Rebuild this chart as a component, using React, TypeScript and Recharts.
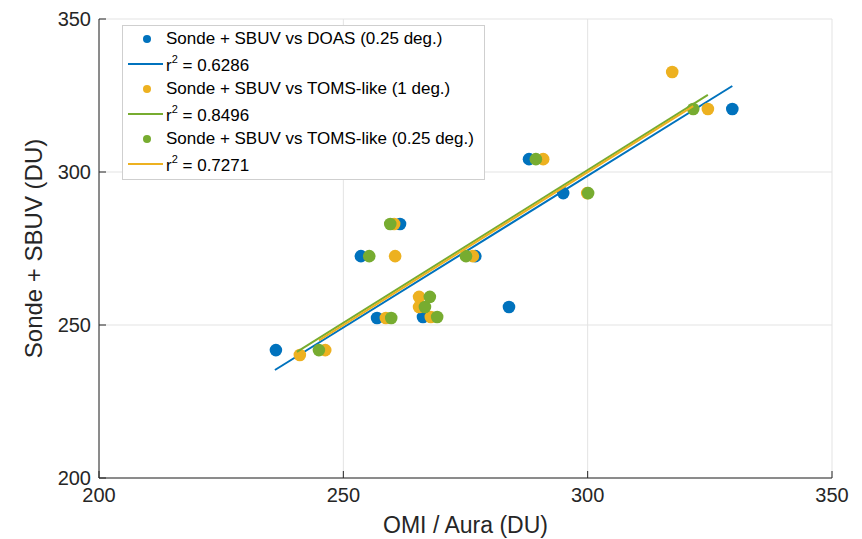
import React from 'react'
import { ScatterChart, Scatter, XAxis, YAxis, CartesianGrid } from 'recharts'

// Sonde + SBUV vs DOAS (0.25 deg.)
const doasX = [236.2, 253.6, 256.9, 261.6, 266.3, 277.0, 283.9, 288.0, 295.0, 329.6]
const doasY = [241.8, 272.5, 252.3, 283.0, 252.6, 272.5, 255.9, 304.2, 293.1, 320.6]

// Sonde + SBUV vs TOMS-like (1 deg.)
const toms1X = [241.1, 246.3, 258.7, 260.4, 260.6, 265.5, 265.5, 267.9, 276.5, 290.9, 299.9, 317.3, 324.6]
const toms1Y = [240.2, 241.8, 252.3, 283.0, 272.5, 259.2, 255.9, 252.6, 272.5, 304.2, 293.1, 332.7, 320.6]

// Sonde + SBUV vs TOMS-like (0.25 deg.)
const toms025X = [245.0, 255.3, 259.6, 259.8, 266.7, 267.7, 269.2, 275.1, 289.4, 300.1, 321.6]
const toms025Y = [241.8, 272.5, 283.0, 252.3, 255.9, 259.2, 252.6, 272.5, 304.2, 293.1, 320.6]

// fitted lines (end points)
const fitDoasX = [236.0, 329.6]
const fitDoasY = [235.3, 328.1]
const fitToms1X = [240.5, 324.6]
const fitToms1Y = [241.2, 325.2]
const fitToms025X = [245.0, 321.6]
const fitToms025Y = [245.0, 321.5]

const ticks = [200, 250, 300, 350]

const BLUE = '#0072BD'
const YELLOW = '#EDB120'
const GREEN = '#77AC30'
const AXIS = '#262626'
const FONT = '"Liberation Sans", Arial, Helvetica, sans-serif'

const toPoints = (xs: number[], ys: number[]) => xs.map((x, i) => ({ x, y: ys[i] }))

const dot = (color: string) => (props: any) => (
  <circle cx={props.cx} cy={props.cy} r={6.3} fill={color} />
)
const noDot = () => <g />

const legendRows = [
  { kind: 'dot', color: BLUE, text: 'Sonde + SBUV vs DOAS (0.25 deg.)' },
  { kind: 'line', color: BLUE, r2: '0.6286' },
  { kind: 'dot', color: YELLOW, text: 'Sonde + SBUV vs TOMS-like (1 deg.)' },
  { kind: 'line', color: GREEN, r2: '0.8496' },
  { kind: 'dot', color: GREEN, text: 'Sonde + SBUV vs TOMS-like (0.25 deg.)' },
  { kind: 'line', color: YELLOW, r2: '0.7271' },
]

function LegendBox() {
  return (
    <div
      style={{
        position: 'absolute',
        left: 122,
        top: 25,
        width: 361,
        height: 153,
        background: '#fff',
        border: '1px solid #cfcfcf',
        fontFamily: FONT,
        fontSize: 17,
        color: '#000',
      }}
    >
      {legendRows.map((r, i) => (
        <div
          key={i}
          style={{ position: 'absolute', left: 0, top: 1 + i * 25, height: 25, width: 361 }}
        >
          {r.kind === 'dot' ? (
            <div
              style={{
                position: 'absolute',
                left: 20,
                top: 8,
                width: 8,
                height: 8,
                borderRadius: 4,
                background: r.color,
              }}
            />
          ) : (
            <div
              style={{
                position: 'absolute',
                left: 5,
                top: 11,
                width: 35,
                height: 2,
                background: r.color,
              }}
            />
          )}
          <div style={{ position: 'absolute', left: 43, top: r.kind === 'dot' ? 2 : 4, whiteSpace: 'nowrap' }}>
            {r.kind === 'dot' ? (
              r.text
            ) : (
              <span>
                r<sup style={{ fontSize: 11, verticalAlign: 0, position: 'relative', top: -8 }}>2</sup> = {r.r2}
              </span>
            )}
          </div>
        </div>
      ))}
    </div>
  )
}

export default function App() {
  const tickStyle = { fontSize: 20, fill: AXIS, fontFamily: FONT }
  return (
    <div style={{ position: 'absolute', left: 0, top: 0, width: 862, height: 539, background: '#fff' }}>
      <ScatterChart width={862} height={539} margin={{ top: 19, right: 30, bottom: 0, left: 0 }}>
        <CartesianGrid stroke="#e3e3e3" strokeWidth={1} />
        <XAxis
          type="number"
          dataKey="x"
          domain={[200, 350]}
          ticks={ticks}
          allowDataOverflow
          height={61}
          tickSize={-7}
          tickMargin={17}
          stroke={AXIS}
          tick={tickStyle}
          label={{ value: 'OMI / Aura (DU)', position: 'insideBottom', offset: 6, style: { fontSize: 23, fill: AXIS, fontFamily: FONT } }}
        />
        <YAxis
          type="number"
          dataKey="y"
          domain={[200, 350]}
          ticks={ticks}
          allowDataOverflow
          width={99}
          tickSize={-7}
          tickMargin={15}
          stroke={AXIS}
          tick={tickStyle}
          label={{
            value: 'Sonde + SBUV (DU)',
            angle: -90,
            position: 'insideLeft',
            offset: 33,
            style: { fontSize: 24, fill: AXIS, fontFamily: FONT, textAnchor: 'middle' },
          }}
        />
        <XAxis
          xAxisId="top"
          orientation="top"
          type="number"
          domain={[200, 350]}
          ticks={ticks}
          allowDataOverflow
          height={0}
          tickSize={-7}
          stroke={AXIS}
          tickFormatter={() => ''}
        />
        <YAxis
          yAxisId="right"
          orientation="right"
          type="number"
          domain={[200, 350]}
          ticks={ticks}
          allowDataOverflow
          width={0}
          tickSize={-7}
          stroke={AXIS}
          tickFormatter={() => ''}
        />
        <Scatter data={toPoints(doasX, doasY)} shape={dot(BLUE)} isAnimationActive={false} />
        <Scatter
          data={toPoints(fitDoasX, fitDoasY)}
          shape={noDot}
          line={{ stroke: BLUE, strokeWidth: 2 }}
          isAnimationActive={false}
        />
        <Scatter data={toPoints(toms1X, toms1Y)} shape={dot(YELLOW)} isAnimationActive={false} />
        <Scatter
          data={toPoints(fitToms1X, fitToms1Y)}
          shape={noDot}
          line={{ stroke: GREEN, strokeWidth: 2 }}
          isAnimationActive={false}
        />
        <Scatter data={toPoints(toms025X, toms025Y)} shape={dot(GREEN)} isAnimationActive={false} />
        <Scatter
          data={toPoints(fitToms025X, fitToms025Y)}
          shape={noDot}
          line={{ stroke: YELLOW, strokeWidth: 2 }}
          isAnimationActive={false}
        />
      </ScatterChart>
      <LegendBox />
    </div>
  )
}
